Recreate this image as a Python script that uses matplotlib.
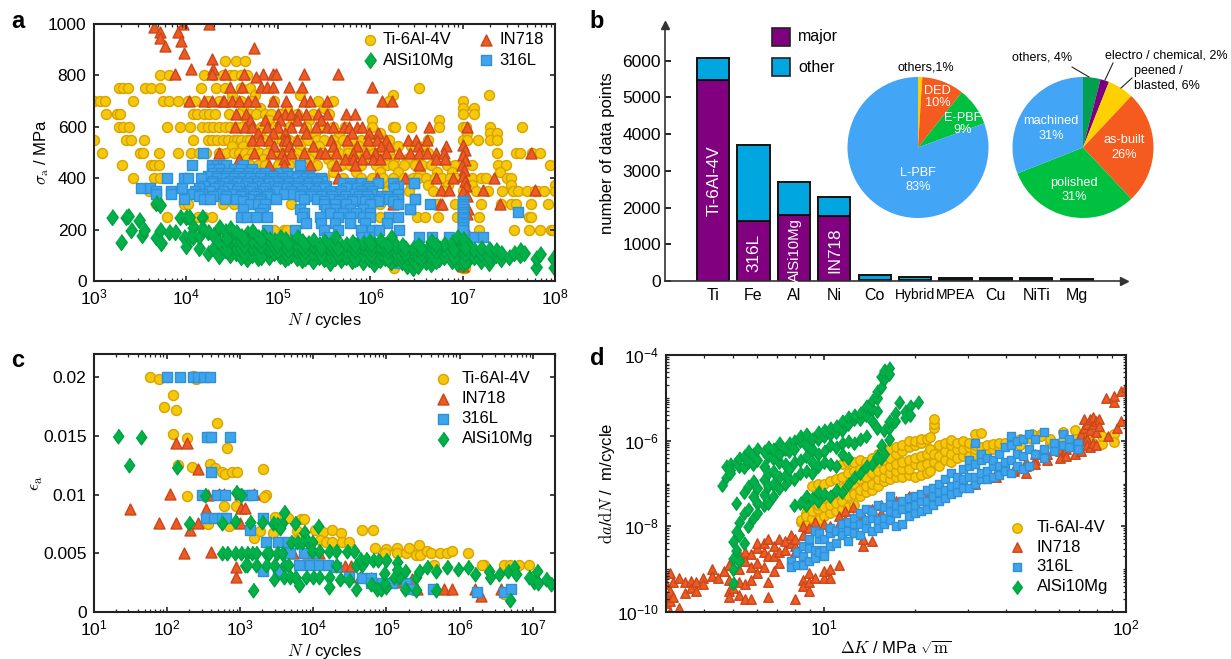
import matplotlib
matplotlib.use("Agg")
import matplotlib.pyplot as plt
from matplotlib.ticker import LogLocator, NullFormatter, LogFormatterMathtext, FixedLocator
import numpy as np

plt.rcParams['font.family'] = ['Liberation Sans', 'DejaVu Sans']
plt.rcParams['mathtext.fontset'] = 'cm'
plt.rcParams['mathtext.default'] = 'regular'

W, H = 1231, 659

YELLOW = ('#F5C80A', '#D8A200')
ORANGE = ('#EE5A22', '#C9471A')
BLUE = ('#3FA4EC', '#2E90D6')
GREEN = ('#02B04A', '#00A040')
DIAMOND = [(0, 1), (0.72, 0), (0, -1), (-0.72, 0)]

# panel a: stress level -> log10(N) readings
ti_a_rows = [
    (857, [4.42, 4.54, 4.64]),
    (800, [3.72, 3.82, 4.2, 4.3, 4.4, 4.48, 4.52, 4.6, 4.66]),
    (750, [3.28, 3.32, 3.37, 3.56, 3.62, 3.72, 4.17, 4.33, 4.42, 4.6, 4.7, 6.53]),
    (725, [4.5, 4.75, 5.24, 6.24, 7.28]),
    (700, [3.01, 3.07, 3.13, 3.43, 3.75, 3.82, 3.92, 4.02, 4.1, 4.24, 4.36, 4.5, 4.6, 4.72, 4.96, 5.43, 5.6, 6.2, 7.0]),
    (675, [4.62, 4.8, 5.1, 5.5, 7.0, 7.12]),
    (650, [3.14, 3.25, 3.29, 4.08, 4.12, 4.2, 4.25, 4.32, 4.47, 4.58, 4.7, 4.76, 4.86, 4.92, 5.02, 5.2, 5.38, 5.55, 7.0, 7.12]),
    (625, [4.66, 4.9, 5.16, 5.34, 6.02, 6.74]),
    (600, [3.28, 3.32, 3.39, 3.8, 3.94, 4.05, 4.18, 4.24, 4.3, 4.36, 4.42, 4.48, 4.54, 4.6, 4.7, 4.82, 4.96, 5.12, 5.3, 5.46, 5.6, 5.72, 6.02, 6.24, 6.27, 6.44, 6.74, 7.0, 7.04, 7.3, 7.64]),
    (575, [4.8, 5.0, 5.4, 5.66, 6.1, 7.05, 7.3, 7.37]),
    (550, [3.01, 3.35, 3.41, 3.55, 4.08, 4.24, 4.28, 4.34, 4.4, 4.46, 4.52, 4.56, 4.6, 4.66, 4.7, 4.78, 4.86, 4.95, 5.04, 5.12, 5.22, 5.32, 5.42, 5.5, 5.6, 5.7, 5.8, 5.9, 6.0, 6.1, 6.2, 6.62, 7.0, 7.05, 7.17, 7.3, 7.37]),
    (525, [4.5, 4.62, 4.74, 4.92, 5.08, 5.24, 5.44, 5.62, 5.76, 5.88, 6.0, 6.16, 6.3, 6.44, 6.58]),
    (500, [3.09, 3.5, 3.54, 3.71, 3.92, 4.06, 4.14, 4.22, 4.36, 4.44, 4.52, 4.58, 4.64, 4.72, 4.8, 4.88, 4.96, 5.04, 5.1, 5.2, 5.3, 5.4, 5.48, 5.58, 5.66, 5.76, 5.86, 5.94, 6.04, 6.12, 6.2, 6.62, 7.37, 7.58, 7.62, 7.75, 7.84]),
    (475, [4.66, 4.84, 5.02, 5.18, 5.34, 5.54, 5.72, 5.92, 6.1, 6.26, 6.4, 6.5]),
    (450, [3.31, 3.62, 3.66, 3.71, 4.62, 4.7, 4.78, 4.86, 5.0, 5.12, 5.26, 5.42, 5.58, 5.68, 5.78, 5.9, 6.06, 6.18, 6.24, 6.36, 6.48, 6.56, 6.66, 6.83, 6.92, 7.1, 7.38, 7.47, 7.95]),
    (425, [5.6, 5.84, 6.1, 6.3, 6.54, 6.72, 6.88, 7.4]),
    (400, [3.43, 3.66, 3.72, 5.5, 5.7, 5.9, 6.02, 6.14, 6.24, 6.36, 6.46, 6.52, 6.6, 6.7, 6.78, 6.86, 6.93, 7.1, 7.2, 7.25, 7.48, 7.52]),
    (375, [6.2, 6.44, 6.62, 6.84, 7.1, 7.52, 8.0]),
    (350, [3.6, 4.9, 6.18, 6.42, 6.68, 6.8, 7.0, 7.14, 7.27, 7.43, 7.54, 7.6, 7.7, 7.78, 7.82, 7.88, 8.0]),
    (300, [3.68, 3.98, 4.02, 4.4, 4.52, 5.14, 6.1, 6.72, 6.92, 7.2, 7.42, 7.52, 7.58, 7.74, 7.92]),
    (250, [3.8, 4.13, 4.2, 4.28, 4.6, 6.1, 6.5, 6.59, 6.73, 6.94, 7.18, 7.72, 7.74]),
    (200, [4.36, 4.5, 4.96, 5.06, 5.1, 7.18, 7.56, 7.72, 7.84, 7.96, 7.98]),
    (100, [5.84, 6.8, 7.0]),
    (50, [6.26, 7.0, 7.03]),
]

in_a_rows = [
    (1000, [3.97, 4.25]),
    (990, [3.66]),
    (970, [3.72, 3.92]),
    (945, [3.72]),
    (935, [3.95]),
    (915, [3.78]),
    (905, [4.74]),
    (888, [3.98]),
    (865, [4.28]),
    (825, [4.06, 4.3]),
    (805, [3.88, 4.28, 4.42, 4.63, 4.84, 4.94, 4.98, 5.28, 5.65]),
    (793, [4.76]),
    (753, [4.48, 4.61, 4.82, 4.88, 4.95, 5.12, 5.26, 6.02]),
    (700, [4.04, 4.2, 4.28, 4.4, 4.41, 4.5, 4.58, 4.67, 4.75, 4.94, 5.09, 5.28, 5.35, 5.53, 6.13, 6.23]),
    (650, [4.54, 4.65, 5.0, 5.08, 5.14, 5.22, 5.3, 5.43, 5.53, 5.74, 5.83]),
    (625, [4.7, 4.86, 5.02, 5.2, 5.46]),
    (600, [4.53, 4.64, 4.72, 4.88, 5.0, 5.14, 5.28, 5.41, 5.53, 5.59, 5.71, 5.77, 5.85, 5.91, 6.63, 7.05]),
    (575, [4.78, 4.95, 5.08, 5.3, 5.8, 5.98, 6.08]),
    (550, [4.72, 4.8, 4.9, 5.06, 5.1, 5.2, 5.57, 5.75, 5.97, 6.07, 6.17, 6.41, 6.49, 6.61]),
    (525, [4.96, 5.12, 5.38, 5.6, 5.86, 6.12, 6.2, 6.52, 6.82]),
    (500, [4.36, 4.74, 4.92, 5.04, 5.14, 5.28, 5.45, 5.51, 5.63, 5.81, 5.95, 6.05, 6.17, 6.31, 6.43, 6.53, 6.61, 6.71, 6.8, 7.74]),
    (475, [4.58, 5.06, 5.73, 5.81, 5.91, 6.03, 6.1, 6.71, 6.81]),
    (450, [4.9, 5.06, 5.35, 5.63, 5.83, 6.53]),
    (400, [5.65, 6.07, 6.37, 6.71, 6.89, 7.34]),
    (355, [6.77, 6.85, 7.22, 7.78]),
    (300, [6.25, 6.75, 6.78, 7.4]),
    (100, [6.81]),
]

in_a_1e7_logN = [7.0, 7.02, 7.0, 7.03, 6.99, 7.01, 7.0, 7.02, 7.04, 7.0, 7.05, 7.03, 7.06, 7.05, 7.04, 6.98, 7.0]
in_a_1e7_sigma = [530, 510, 490, 470, 450, 430, 410, 390, 370, 350, 330, 300, 280, 260, 200, 100, 60]

ss_a_rows = [
    (500, [4.19]),
    (450, [4.07, 4.28, 4.34, 4.4, 4.44, 4.62, 5.24]),
    (435, [4.28, 4.36, 4.52, 4.6, 4.72]),
    (420, [4.3, 4.38, 4.46, 4.58, 4.68, 4.78, 4.86, 5.02, 5.1]),
    (410, [4.24, 4.34, 4.42, 4.54, 4.66, 4.82, 4.94, 5.12, 5.22, 5.34]),
    (400, [3.8, 3.98, 4.02, 4.17, 4.34, 4.44, 4.52, 4.62, 4.7, 4.8, 4.94, 5.04, 5.2, 5.3, 5.38, 5.46]),
    (390, [4.3, 4.48, 4.6, 4.74, 4.88, 4.98, 5.08, 5.26, 5.4, 5.48]),
    (380, [4.28, 4.42, 4.55, 4.66, 4.78, 4.9, 5.0, 5.12, 5.22, 5.34, 5.42, 5.7, 5.78, 5.9, 6.08, 6.24, 6.47]),
    (370, [4.2, 4.36, 4.5, 4.64, 4.8, 4.94, 5.06, 5.18, 5.3, 5.44, 5.52, 5.8, 5.96, 6.3]),
    (360, [3.51, 3.61, 3.96, 4.14, 4.32, 4.46, 4.58, 4.72, 4.86, 5.0, 5.1, 5.2, 5.32, 5.44, 5.5, 5.74, 5.86, 5.98, 6.26]),
    (350, [3.68, 3.84, 4.1, 4.26, 4.4, 4.56, 4.7, 4.84, 4.98, 5.14, 5.26, 5.4, 5.56, 5.68, 5.9, 6.02]),
    (340, [3.68, 3.84, 4.08, 4.18, 4.36, 4.5, 4.62, 4.76, 4.9, 5.06, 5.16, 5.28, 5.38, 5.52, 5.66, 5.82, 5.92, 6.02, 6.3]),
    (330, [4.14, 4.3, 4.44, 4.6, 4.74, 4.88, 5.24, 5.36, 5.46, 5.58, 5.72, 5.88, 5.96, 6.12, 6.18]),
    (320, [3.98, 4.2, 4.26, 4.42, 4.54, 4.68, 4.82, 4.98, 5.28, 5.42, 5.56, 5.7, 5.85, 5.98, 6.12, 6.2, 6.3, 6.48]),
    (310, [4.62, 4.8, 5.5, 5.66, 5.8, 5.94, 6.08, 6.24]),
    (300, [4.7, 4.78, 4.86, 5.5, 5.62, 5.74, 6.0, 6.3, 6.65]),
    (280, [4.62, 4.84, 5.24, 5.52, 5.62, 5.78, 5.92, 6.43]),
    (265, [4.8, 5.28, 5.56, 5.7, 5.84, 6.0]),
    (250, [4.6, 4.66, 4.76, 4.88, 5.26, 5.45, 5.65, 5.78, 5.92, 6.0, 6.2, 6.3]),
    (225, [5.3, 5.46, 5.62, 5.78, 5.94, 6.18]),
    (200, [4.88, 5.18, 5.5, 5.65, 5.9, 6.02, 6.09, 6.31]),
    (170, [5.53, 5.91, 5.99, 6.53, 6.67, 6.85, 6.99, 7.12, 7.22]),
    (70, [6.31]),
]

ss_a_1e7_sigma = [310, 300, 290, 280, 270, 260, 250, 240, 230, 220, 210, 200]
ss_a_extra_logN = [7.6, 6.43, 6.48, 6.47]
ss_a_extra_sigma = [270, 280, 320, 380]

# AlSi10Mg in panel a: log10(N) -> stress readings
al_a_cols = [
    (3.2, [248]), (3.3, [150]), (3.35, [248]), (3.37, [252]), (3.41, [200]), (3.49, [237]),
    (3.53, [180]), (3.55, [200]), (3.68, [302, 172]), (3.72, [295, 198]), (3.73, [147]),
    (3.82, [192]), (3.88, [192]), (3.94, [248]), (3.98, [172]), (4.0, [137, 250]),
    (4.04, [248, 170]), (4.08, [212, 172]), (4.14, [127, 175]), (4.18, [248, 205]),
    (4.24, [108, 190]), (4.3, [130, 178]), (4.36, [98, 150, 212]), (4.42, [120, 168, 195]),
    (4.48, [100, 142, 180, 205]), (4.54, [110, 130, 160, 190]), (4.6, [95, 125, 150, 175]),
    (4.66, [86, 112, 140, 185, 160]), (4.72, [100, 130, 155, 195]), (4.78, [88, 118, 145, 170]),
    (4.84, [105, 128, 150, 180]), (4.9, [92, 120, 140, 165]), (4.96, [108, 132, 160]),
    (5.02, [96, 124, 148, 172]), (5.08, [84, 112, 136, 162]), (5.14, [100, 126, 150]),
    (5.2, [90, 118, 142, 170]), (5.26, [80, 108, 130, 155]), (5.32, [98, 122, 148]),
    (5.38, [76, 110, 135, 160]), (5.44, [92, 120, 145]), (5.5, [84, 105, 130, 155]),
    (5.56, [70, 98, 125, 145]), (5.62, [90, 115, 140, 170]), (5.68, [82, 108, 135]),
    (5.74, [95, 120, 145]), (5.8, [78, 105, 130, 150]), (5.86, [90, 112, 140]),
    (5.92, [72, 100, 128, 148]), (5.98, [85, 110, 135, 155]), (6.04, [68, 95, 120, 145]),
    (6.1, [82, 108, 130, 160]), (6.16, [90, 118, 140]), (6.22, [75, 100, 125, 170]),
    (6.28, [85, 110, 135]), (6.34, [72, 95, 125, 140]), (6.4, [58, 88, 115]),
    (6.46, [52, 80, 105, 130]), (6.52, [60, 92, 118, 140]), (6.6, [72, 100, 120]),
    (6.66, [68, 90, 110, 135, 155]), (6.74, [85, 108, 130]), (6.8, [95, 120, 145]),
    (6.88, [78, 105, 135, 150]), (6.94, [70, 110, 140, 170]), (7.0, [65, 90, 125, 150, 165]),
    (7.06, [80, 110, 140]), (7.12, [95, 120]), (7.2, [78, 105, 130]), (7.28, [70, 90, 125]),
    (7.36, [100, 120]), (7.42, [85, 110]), (7.5, [95]), (7.56, [110]), (7.62, [120, 100]),
    (7.66, [110]), (7.79, [55, 90]), (7.84, [105]), (7.98, [88]), (7.99, [55]),
    (4.45, [135, 115, 165]), (4.63, [105, 135, 165]), (4.81, [95, 135, 160]), (4.99, [115, 140]),
    (5.11, [95, 120, 145]), (5.29, [90, 115, 140]), (5.47, [100, 130]), (5.65, [100, 125]),
    (5.83, [85, 120, 140]), (6.01, [100, 125, 145]), (6.19, [85, 115, 135]), (6.37, [105, 130]),
    (6.55, [85, 110, 130]), (6.71, [78, 115, 140]), (6.91, [90, 120]), (7.03, [75, 105, 130]),
]

# panel b
metals = ['Ti', 'Fe', 'Al', 'Ni', 'Co', 'Hybrid', 'MPEA', 'Cu', 'NiTi', 'Mg']
major_counts = [5480, 1620, 1800, 1770, 20, 20, 30, 30, 30, 25]
other_counts = [590, 2090, 900, 530, 140, 80, 50, 40, 40, 25]
major_names = ['Ti-6Al-4V', '316L', 'AlSi10Mg', 'IN718']
process_share = [1, 10, 9, 83]
process_names = ['others,1%', 'DED\n10%', 'E-PBF\n9%', 'L-PBF\n83%']
surface_share = [4, 2, 6, 26, 31, 31]
surface_names = ['others, 4%', 'electro / chemical, 2%', 'peened /\nblasted, 6%', 'as-built\n26%', 'polished\n31%', 'machined\n31%']

# panel c: (log10 N, strain amplitude)
ti_c = [(1.77, .02), (1.9, .0199), (2.0, .02), (2.36, .0201), (2.4, .0199), (2.09, .0185), (1.96, .0175),
        (2.13, .0172), (2.69, .0161), (2.08, .0152), (2.27, .0148), (2.82, .014), (2.16, .0125), (2.35, .0124),
        (2.59, .0126), (2.66, .0123), (2.75, .0119), (2.79, .0118), (2.89, .0119), (2.96, .0119), (3.31, .0122),
        (2.27, .0099), (2.78, .009), (2.95, .009), (3.35, .01), (3.33, .0098), (2.85, .0073), (2.56, .0075),
        (3.19, .0063), (3.27, .0069), (3.45, .0067), (3.48, .0081), (3.65, .008), (3.83, .0079), (3.88, .0079),
        (3.78, .0069), (3.8, .0063), (4.03, .007), (4.13, .0068), (4.25, .007), (4.09, .0061), (4.18, .006),
        (4.25, .006), (4.38, .0067), (4.39, .006), (4.49, .006), (4.67, .007), (4.82, .007), (4.84, .0055),
        (4.99, .0054), (4.98, .005), (5.15, .0055), (5.15, .005), (5.27, .005), (5.31, .0055), (5.44, .0057),
        (5.4, .0049), (5.46, .0049), (5.55, .0052), (5.61, .005), (5.73, .005), (5.83, .005), (5.89, .0052),
        (6.11, .005), (5.65, .004), (6.33, .004), (6.61, .004), (6.68, .004), (6.81, .004), (6.94, .004),
        (6.6, .0015), (6.3, .004)]
in_c = [(1.5, .0088), (1.9, .0076), (2.13, .0076), (2.13, .0144), (2.28, .0144), (2.42, .0122), (2.04, .0101),
        (2.32, .007), (2.43, .0076), (2.54, .0088), (2.24, .005), (2.6, .0051), (2.57, .01), (2.71, .0101),
        (2.78, .0101), (3.0, .0101), (3.19, .0101), (3.02, .0089), (3.07, .0089), (3.0, .0076), (2.94, .0038),
        (2.95, .003), (3.73, .005), (3.93, .005), (4.08, .005), (4.44, .0039), (4.51, .0039), (4.64, .003),
        (4.79, .0029), (5.2, .0026), (5.35, .0028), (5.42, .002), (5.79, .002), (5.9, .002), (6.21, .002),
        (6.29, .0014), (6.57, .002)]
ss_c = [(2.0, .02), (2.18, .02), (2.36, .02), (2.43, .02), (2.51, .02), (2.59, .02), (2.55, .0149), (2.6, .0149),
        (2.87, .0149), (2.6, .0119), (2.48, .01), (2.69, .01), (2.79, .01), (3.09, .01), (3.17, .01), (2.54, .008),
        (2.64, .008), (2.76, .008), (2.81, .008), (3.13, .007), (3.32, .008), (3.35, .006), (3.52, .006),
        (3.65, .006), (3.32, .0035), (3.52, .0035), (3.68, .005), (3.88, .005), (4.0, .005), (3.8, .004),
        (3.95, .004), (4.08, .004), (4.2, .004), (4.31, .0038), (4.49, .003), (4.66, .0029), (4.79, .0029),
        (4.79, .0025), (4.94, .0025), (5.07, .0025), (5.27, .0025), (5.32, .002), (5.63, .002), (6.24, .0017),
        (6.61, .0017), (6.7, .002)]
al_c = [(1.33, .015), (1.65, .0149), (1.49, .0125), (2.14, .0124), (2.52, .01), (2.31, .0076), (2.76, .0076),
        (2.93, .0078), (2.95, .0102), (3.02, .01), (3.14, .0077), (3.3, .0077), (3.45, .0076), (3.5, .0075),
        (3.57, .0076), (3.6, .0085), (3.75, .0076), (3.54, .0072), (4.06, .0073), (3.88, .0068), (3.7, .006),
        (3.78, .006), (3.85, .006), (3.93, .006), (3.98, .006), (2.76, .005), (2.82, .005), (2.93, .005),
        (3.02, .005), (3.09, .005), (3.17, .005), (3.22, .005), (3.35, .005), (3.4, .005), (3.5, .005), (3.57, .005),
        (3.98, .0052), (4.08, .0052), (4.21, .0052), (4.31, .0052), (4.46, .0052), (4.56, .0052), (3.07, .004),
        (3.09, .004), (3.22, .004), (3.35, .004), (3.47, .004), (3.6, .004), (3.65, .004), (4.31, .004), (4.59, .004),
        (4.66, .004), (4.64, .0045), (4.72, .0045), (4.82, .0044), (4.89, .0044), (4.99, .0044), (3.46, .0028),
        (3.6, .003), (3.68, .003), (3.75, .003), (3.9, .003), (4.0, .003), (4.08, .003), (4.21, .003), (3.18, .0019),
        (3.81, .0023), (4.21, .0021), (4.36, .0028), (4.49, .0027), (4.59, .002), (4.79, .0024), (4.87, .002),
        (4.92, .002), (4.99, .0021), (4.97, .0025), (4.97, .0033), (5.1, .003), (5.17, .003), (5.14, .0043),
        (5.14, .0037), (5.25, .0035), (5.25, .002), (5.4, .003), (5.4, .0019), (5.45, .0035), (5.55, .0038),
        (5.68, .0035), (5.68, .0019), (5.82, .0038), (5.98, .0037), (6.12, .0038), (6.21, .0032), (6.4, .0035),
        (6.41, .003), (6.54, .0032), (6.69, .001), (6.66, .0035), (6.74, .0038), (6.77, .0032), (6.95, .003),
        (7.02, .0026), (7.05, .0035), (7.07, .0025), (7.18, .0028), (7.24, .0024)]

# panel d: log10(dK) -> log10(da/dN) readings
al_d_cols = [
    (.661, [-7.03]), (.675, [-6.6, -6.85]), (.688, [-6.55, -6.68, -6.76]), (.70, [-9.32, -9.0, -8.75, -8.35]),
    (.71, [-8.55, -8.1, -6.5, -7.45]), (.72, [-8.8, -8.2, -7.9, -6.6, -6.4]), (.735, [-8.4, -7.7, -7.2, -6.35, -6.62]),
    (.75, [-8.0, -7.6, -7.05, -6.5, -6.25]), (.765, [-7.8, -7.3, -6.95, -6.55, -6.3]),
    (.78, [-7.7, -7.45, -7.1, -6.45, -6.2]), (.80, [-7.5, -7.25, -6.9, -6.6, -6.25]),
    (.815, [-7.45, -7.05, -6.75, -6.35, -6.15]), (.83, [-7.3, -7.0, -6.7, -6.4, -6.2]),
    (.85, [-7.1, -6.85, -6.5, -6.3, -6.05]), (.87, [-7.0, -6.8, -6.55, -6.2]), (.885, [-6.9, -6.65, -6.25, -6.05]),
    (.90, [-7.5, -6.9, -6.5, -6.0, -6.2]), (.92, [-7.45, -6.75, -6.45, -6.0, -5.9]),
    (.94, [-7.5, -7.3, -6.7, -6.35, -6.1, -5.85]), (.96, [-7.35, -6.75, -6.5, -6.2, -5.95]),
    (.98, [-7.4, -7.2, -6.6, -6.3, -5.95, -5.8]), (1.0, [-7.25, -6.5, -6.25, -5.9, -5.75]),
    (1.02, [-7.3, -6.55, -6.1, -5.85, -5.7]), (1.04, [-7.15, -6.6, -6.15, -5.8, -5.65]),
    (1.06, [-7.2, -6.3, -6.05, -5.75, -5.55]), (1.08, [-7.0, -6.4, -6.0, -5.6, -5.45]),
    (1.10, [-6.85, -6.05, -5.5, -5.4]), (1.12, [-6.75, -5.95, -5.5, -5.35]), (1.14, [-6.6, -5.9, -5.4, -5.2]),
    (1.16, [-6.55, -5.55, -5.25, -5.05]), (1.175, [-6.35, -6.4, -5.7, -5.3, -5.0, -4.85]),
    (1.19, [-6.4, -6.1, -4.75, -4.5]), (1.20, [-6.3, -5.75, -4.35, -4.55, -4.4]), (1.215, [-5.95, -4.3, -4.45, -5.7, -5.55]),
    (1.235, [-5.35, -5.55]), (1.25, [-5.1]), (1.27, [-5.3, -5.45]), (1.285, [-5.2, -5.4]), (1.31, [-5.1]),
]
ti_d_cols = [
    (.925, [-7.9, -7.85]), (.94, [-7.95, -7.7, -7.75]), (.96, [-7.8, -7.65, -7.05]), (.98, [-7.85, -7.6, -7.5, -7.0]),
    (1.0, [-7.75, -7.55, -7.35, -7.0]), (1.02, [-7.7, -7.5, -7.3, -6.95]), (1.04, [-7.65, -7.45, -7.2, -6.9]),
    (1.06, [-7.6, -7.4, -7.1, -6.55, -6.85]), (1.08, [-7.55, -7.3, -7.05, -6.5, -6.75]),
    (1.10, [-7.5, -7.25, -7.0, -6.7, -6.5]), (1.12, [-7.3, -7.15, -6.9, -6.65, -6.45]),
    (1.14, [-7.2, -7.05, -6.85, -6.6, -6.5]), (1.16, [-7.15, -7.0, -6.75, -6.55, -6.4]),
    (1.18, [-7.05, -6.9, -6.7, -6.5, -6.3]), (1.20, [-6.95, -6.85, -6.65, -6.45, -6.25]),
    (1.22, [-6.9, -6.75, -6.6, -6.4, -6.2]), (1.24, [-6.85, -6.7, -6.55, -6.3, -6.15]),
    (1.26, [-6.85, -6.65, -6.5, -6.25, -6.1]), (1.28, [-6.8, -6.65, -6.45, -6.15, -6.0]),
    (1.30, [-6.85, -6.55, -6.4, -6.1, -6.0]), (1.32, [-6.8, -6.6, -6.35, -6.05, -5.97]),
    (1.34, [-6.75, -6.55, -6.3, -5.95]), (1.352, [-6.7, -6.2, -5.92]), (1.366, [-6.5, -6.3, -5.7, -5.6, -5.5]),
    (1.38, [-6.6, -6.35, -6.1]), (1.40, [-6.45, -6.25, -6.05]), (1.42, [-6.5, -6.3, -6.1, -5.98]),
    (1.44, [-6.4, -6.2, -6.05]), (1.46, [-6.35, -6.2, -6.0]), (1.48, [-6.35, -6.15, -6.05]),
    (1.50, [-6.3, -6.2, -6.1, -5.85]), (1.52, [-6.3, -6.15, -5.82]), (1.54, [-6.25, -6.1]),
    (1.56, [-6.2, -6.08]), (1.58, [-6.15, -6.05]), (1.60, [-6.05]), (1.65, [-5.95, -6.1]),
    (1.69, [-5.95, -5.85]), (1.72, [-5.85, -5.9]), (1.75, [-6.05, -5.95]), (1.79, [-5.8, -6.0]),
    (1.83, [-5.75, -5.95]), (1.87, [-5.7, -5.85]), (1.89, [-6.1, -6.05]), (1.92, [-6.08, -5.9]),
    (1.96, [-5.85, -6.02]),
]
in_d_cols = [
    (.478, [-9.65, -9.8, -9.35]), (.49, [-9.1, -9.5, -9.75, -10.0]), (.50, [-9.3, -9.65]), (.52, [-9.2, -9.9]),
    (.54, [-9.3, -9.55]), (.56, [-9.28, -9.45]), (.575, [-9.3, -9.5]), (.60, [-9.2, -9.35]), (.63, [-9.0, -9.15]),
    (.65, [-9.2]), (.67, [-9.05]), (.685, [-9.5, -9.65, -9.25, -8.9]), (.70, [-9.45]), (.72, [-9.3, -9.6, -9.0, -8.65]),
    (.74, [-9.35, -9.7, -8.8, -8.6]), (.76, [-9.25, -8.95, -9.7, -8.65]), (.78, [-9.1, -8.5, -8.85, -8.4]),
    (.80, [-8.4, -8.95, -8.6]), (.815, [-9.3, -9.65, -8.3, -8.7]), (.835, [-9.05, -8.45, -8.7]),
    (.85, [-8.3, -8.6, -8.85]), (.87, [-8.35, -8.55]), (.89, [-8.4, -8.2]), (.905, [-9.7, -8.45, -8.3, -8.6]),
    (.93, [-8.0, -8.2, -9.25, -9.4]), (.95, [-9.1, -9.5, -9.3, -8.05]), (.97, [-7.9, -9.2]), (1.0, [-9.2, -9.05, -7.95]),
    (1.02, [-9.2, -9.0, -8.0]), (1.05, [-8.9, -7.75, -7.95]), (1.07, [-7.65, -7.85]), (1.095, [-7.55, -7.8]),
    (1.13, [-7.75, -8.45, -8.3]), (1.16, [-7.6, -8.35]), (1.19, [-7.5, -7.7]), (1.24, [-7.4, -7.5]),
    (1.28, [-7.3, -7.45]), (1.34, [-7.25, -7.2]), (1.38, [-7.1, -7.2]), (1.44, [-7.1, -6.98]), (1.5, [-6.9, -7.0]),
    (1.57, [-6.85, -6.75]), (1.63, [-6.7, -6.65]), (1.67, [-6.6, -6.5, -6.75]), (1.70, [-6.45, -6.55, -6.3]),
    (1.74, [-6.45, -6.3]), (1.78, [-6.25, -6.4]), (1.80, [-6.2, -6.35]), (1.83, [-6.1, -6.3]), (1.85, [-5.85, -6.25]),
    (1.86, [-6.0, -5.7, -5.5]), (1.87, [-5.95, -6.1, -5.6]), (1.88, [-5.75, -5.5, -6.15]), (1.89, [-5.6, -5.45, -6.05]),
    (1.90, [-5.55, -5.8, -6.1]), (1.91, [-5.5, -5.65]), (1.94, [-5.9]), (1.97, [-5.7]), (1.935, [-5.0]),
    (1.96, [-5.1, -4.95]), (1.985, [-5.55, -4.85]), (2.0, [-4.75]),
]
ss_d_cols = [
    (.89, [-8.8, -8.95]), (.91, [-8.6, -8.9]), (.93, [-8.45, -8.9, -8.7]), (.95, [-8.5, -8.8, -8.3]), (.97, [-8.55, -8.75, -8.1]),
    (.985, [-8.6, -8.3, -8.15]), (1.0, [-8.55, -8.7, -8.3]), (1.02, [-8.45, -8.15, -8.05]), (1.04, [-8.4, -8.1]),
    (1.06, [-8.1, -8.2, -7.95]), (1.08, [-8.35, -8.1, -7.9]), (1.1, [-8.15, -7.95, -7.8]), (1.12, [-8.2, -7.95, -7.7]),
    (1.14, [-8.05, -7.85, -7.6]), (1.16, [-8.1, -7.8, -7.65]), (1.18, [-8.05, -7.85, -7.5]), (1.2, [-7.95, -7.8, -7.55]),
    (1.22, [-7.85, -7.65, -7.45, -7.3]), (1.24, [-8.0, -7.7, -7.5]), (1.26, [-7.95, -7.6, -7.4]), (1.28, [-7.75, -7.55, -7.35]),
    (1.3, [-7.7, -7.5, -7.3]), (1.32, [-7.65, -7.4, -7.25]), (1.34, [-7.6, -7.4, -7.15]), (1.36, [-7.5, -7.3, -7.1]),
    (1.38, [-7.4, -7.2, -7.0]), (1.4, [-7.35, -7.15, -6.9]), (1.42, [-7.25, -7.05, -6.75]), (1.44, [-7.2, -7.0, -6.85]),
    (1.46, [-7.1, -6.9, -6.65]), (1.48, [-7.1, -6.85, -6.6, -6.45]), (1.5, [-7.0, -6.85, -6.55, -6.05]),
    (1.52, [-6.9, -6.75, -6.45, -6.3]), (1.54, [-6.9, -6.7, -6.4]), (1.56, [-6.85, -6.6, -6.45]), (1.58, [-6.8, -6.6, -6.3]),
    (1.6, [-6.7, -6.5, -6.15]), (1.62, [-6.75, -6.45, -6.1, -5.9]), (1.64, [-6.6, -6.3, -6.0]), (1.66, [-6.65, -6.35, -5.95]),
    (1.68, [-6.6, -6.2, -5.85]), (1.70, [-6.3, -5.95]), (1.73, [-6.2, -5.8, -6.4]), (1.76, [-6.05, -6.25]), (1.79, [-5.85, -6.1]),
    (1.81, [-5.95, -6.15]), (1.84, [-6.05, -6.2]),
]

LABEL_SIZE = 11.5


def axes_px(left, right, top, bottom):
    return fig.add_axes([left / W, 1 - bottom / H, (right - left) / W, (bottom - top) / H])


def rows_to_xy(rows):
    x, y = [], []
    for level, vals in rows:
        x += vals
        y += [level] * len(vals)
    return 10 ** np.array(x, dtype=float), np.array(y, dtype=float)


def cols_to_xy(cols, log_y=True):
    x, y = [], []
    for pos, vals in cols:
        x += [pos] * len(vals)
        y += vals
    y = np.array(y, dtype=float)
    return 10 ** np.array(x, dtype=float), (10 ** y if log_y else y)


def pairs_to_xy(pairs):
    a = np.array(pairs)
    return 10 ** a[:, 0], a[:, 1]


def dots(ax, x, y, kind, label=None, scale=1.0):
    face, edge = {'ti': YELLOW, 'in': ORANGE, 'ss': BLUE, 'al': GREEN}[kind]
    marker = {'ti': 'o', 'in': '^', 'ss': 's', 'al': DIAMOND}[kind]
    size = {'ti': 52, 'in': 62, 'ss': 58, 'al': 130}[kind]
    ax.scatter(x, y, s=size * scale, marker=marker, facecolor=face, edgecolor=edge, linewidths=1.0, label=label)


def frame(ax):
    for s in ax.spines.values():
        s.set_linewidth(1.5)
        s.set_color('#222222')
    ax.tick_params(which='major', direction='in', length=3.5, width=1.2, top=True, right=True,
                   labelsize=LABEL_SIZE + 1, pad=5, color='#222222')
    ax.tick_params(which='minor', direction='in', length=2, width=0.9, top=True, right=True, color='#222222')


fig = plt.figure(figsize=(W / 100, H / 100), dpi=100)

# ---- a
ax = axes_px(93.5, 555, 24, 281)
x, y = rows_to_xy(ti_a_rows)
dots(ax, x, y, 'ti', 'Ti-6Al-4V')
x, y = rows_to_xy(in_a_rows)
x = np.concatenate([x, 10 ** np.array(in_a_1e7_logN)])
y = np.concatenate([y, in_a_1e7_sigma])
dots(ax, x, y, 'in', 'IN718')
x, y = rows_to_xy(ss_a_rows)
x = np.concatenate([x, np.full(len(ss_a_1e7_sigma), 1e7), 10 ** np.array(ss_a_extra_logN)])
y = np.concatenate([y, ss_a_1e7_sigma, ss_a_extra_sigma])
dots(ax, x, y, 'ss', '316L')
x, y = cols_to_xy(al_a_cols, log_y=False)
dots(ax, x, y, 'al', 'AlSi10Mg')
ax.set_xscale('log')
ax.set_xlim(1e3, 1e8)
ax.set_ylim(0, 1000)
ax.set_yticks([0, 200, 400, 600, 800, 1000])
frame(ax)
ax.set_xlabel(r'$\mathit{N}$ / cycles', fontsize=LABEL_SIZE + 0.5, labelpad=2)
ax.set_ylabel(r'$\mathit{\sigma}_{\mathrm{a}}$ / MPa', fontsize=LABEL_SIZE + 0.5, labelpad=-2)
h, l = ax.get_legend_handles_labels()
order = [0, 3, 1, 2]
ax.legend([h[i] for i in order], [l[i] for i in order], ncol=2, frameon=False, loc='upper left',
          fontsize=LABEL_SIZE + 0.5, bbox_to_anchor=(0.581, 0.969), handlelength=1, handletextpad=0.28,
          columnspacing=1.4, labelspacing=0.35, borderaxespad=0, borderpad=0)

# ---- b
ax = axes_px(665, 1124, 25, 281)
pos = np.arange(len(metals))
ax.bar(pos, major_counts, width=0.8, color='#800080', edgecolor='#111111', linewidth=1.4)
ax.bar(pos, other_counts, width=0.8, bottom=major_counts, color='#00A6E0', edgecolor='#111111', linewidth=1.4)
ax.set_xlim(-1.19, 10.17)
ax.set_ylim(0, 6970)
for i, name in enumerate(major_names):
    ax.text(i + 0.02, major_counts[i] / 2 if i == 0 else major_counts[i] * 0.47, name, rotation=90, color='white',
            ha='center', va='center', fontsize=LABEL_SIZE + (0.8 if i != 2 else -0.8))
ax.set_xticks(pos)
ax.set_xticklabels(metals, fontsize=LABEL_SIZE)
ax.get_xticklabels()[5].set_fontsize(LABEL_SIZE - 1.5)
ax.get_xticklabels()[6].set_fontsize(LABEL_SIZE - 1.5)
ax.set_yticks([0, 1000, 2000, 3000, 4000, 5000, 6000])
ax.tick_params(axis='x', length=0, pad=5)
ax.tick_params(axis='y', direction='in', length=4, width=1.2, labelsize=LABEL_SIZE + 1, pad=3)
for s in ['top', 'right']:
    ax.spines[s].set_visible(False)
for s in ['left', 'bottom']:
    ax.spines[s].set_linewidth(1.2)
    ax.spines[s].set_color('#333333')
ax.plot(1, 0, '>', color='#333333', ms=6, transform=ax.transAxes, clip_on=False)
ax.plot(0, 1, '^', color='#333333', ms=6, transform=ax.transAxes, clip_on=False)
ax.set_ylabel('number of data points', fontsize=LABEL_SIZE + 0.5, labelpad=5)

fig.patches.append(plt.Rectangle((771.5 / W, 1 - 46 / H), 18 / W, 18 / H, transform=fig.transFigure,
                                 facecolor='#800080', edgecolor='#222222', linewidth=1.2))
fig.patches.append(plt.Rectangle((771.5 / W, 1 - 76 / H), 18 / W, 18 / H, transform=fig.transFigure,
                                 facecolor='#00A6E0', edgecolor='#222222', linewidth=1.2))
fig.text(798 / W, 1 - 36 / H, 'major', fontsize=LABEL_SIZE, va='center')
fig.text(798 / W, 1 - 67 / H, 'other', fontsize=LABEL_SIZE, va='center')

PIE_TEXT = 9.2
pa = axes_px(847.5, 988.5, 77, 218)
pa.pie(process_share, colors=['#FFD000', '#F55A1E', '#00C040', '#42A5F5'], startangle=90, counterclock=False,
       radius=1.0, wedgeprops={'linewidth': 0})
pa.set_aspect('auto')
pa.set_xlim(-1, 1)
pa.set_ylim(-1, 1)
pa.text(0.28, 0.72, process_names[1], color='white', fontsize=PIE_TEXT, ha='center', va='center', linespacing=1.05)
pa.text(0.64, 0.33, process_names[2], color='white', fontsize=PIE_TEXT, ha='center', va='center', linespacing=1.05)
pa.text(0, -0.46, process_names[3], color='white', fontsize=PIE_TEXT, ha='center', va='center', linespacing=1.25)
fig.text(926 / W, 1 - 67 / H, process_names[0], fontsize=9, ha='center', va='center')

pb = axes_px(1012.5, 1153.5, 77, 218)
pb.pie(surface_share, colors=['#00A050', '#7B0080', '#FFD000', '#F55A1E', '#00C040', '#42A5F5'], startangle=90,
       counterclock=False, radius=1.0, wedgeprops={'linewidth': 0})
pb.set_aspect('auto')
pb.set_xlim(-1, 1)
pb.set_ylim(-1, 1)
pb.text(0.58, 0.0, surface_names[3], color='white', fontsize=PIE_TEXT, ha='center', va='center', linespacing=1.25)
pb.text(-0.13, -0.6, surface_names[4], color='white', fontsize=PIE_TEXT, ha='center', va='center', linespacing=1.25)
pb.text(-0.45, 0.27, surface_names[5], color='white', fontsize=PIE_TEXT, ha='center', va='center', linespacing=1.25)
fig.text(1042 / W, 1 - 58 / H, surface_names[0], fontsize=9, ha='center', va='center')
fig.text(1166 / W, 1 - 55 / H, surface_names[1], fontsize=9, ha='center', va='center')
fig.text(1134 / W, 1 - 78.5 / H, surface_names[2], fontsize=9, ha='left', va='center', linespacing=1.25)
for (x0, y0, x1, y1) in [(1072, 67, 1089, 77), (1113, 63, 1105, 80), (1132, 78, 1121, 88)]:
    fig.add_artist(plt.Line2D([x0 / W, x1 / W], [1 - y0 / H, 1 - y1 / H], color='#222222', lw=0.8))

# ---- c
ax = axes_px(93.5, 555, 354, 612)
x, y = pairs_to_xy(ti_c)
dots(ax, x, y, 'ti', 'Ti-6Al-4V')
x, y = pairs_to_xy(in_c)
dots(ax, x, y, 'in', 'IN718')
x, y = pairs_to_xy(ss_c)
dots(ax, x, y, 'ss', '316L')
x, y = pairs_to_xy(al_c)
dots(ax, x, y, 'al', 'AlSi10Mg', scale=0.85)
ax.set_xscale('log')
ax.set_xlim(10, 2e7)
ax.set_ylim(0, 0.022)
ax.set_yticks([0, 0.005, 0.01, 0.015, 0.02])
ax.set_yticklabels(['0', '0.005', '0.01', '0.015', '0.02'])
frame(ax)
ax.xaxis.set_major_locator(LogLocator(base=10, numticks=10))
ax.set_xlabel(r'$\mathit{N}$ / cycles', fontsize=LABEL_SIZE + 0.5, labelpad=2)
ax.set_ylabel(r'$\mathit{\epsilon}_{\mathrm{a}}$', fontsize=LABEL_SIZE + 1.5, labelpad=-1)
ax.legend(frameon=False, loc='upper left', fontsize=LABEL_SIZE + 0.5, bbox_to_anchor=(0.739, 0.934),
          handlelength=1, handletextpad=0.63, labelspacing=0.3, borderaxespad=0, borderpad=0)

# ---- d
ax = axes_px(666, 1126, 355, 612)
x, y = cols_to_xy(ti_d_cols)
dots(ax, x, y, 'ti', 'Ti-6Al-4V', scale=0.9)
x, y = cols_to_xy(in_d_cols)
dots(ax, x, y, 'in', 'IN718', scale=0.75)
x, y = cols_to_xy(ss_d_cols)
dots(ax, x, y, 'ss', '316L', scale=0.65)
x, y = cols_to_xy(al_d_cols)
dots(ax, x, y, 'al', 'AlSi10Mg', scale=0.72)
ax.set_xscale('log')
ax.set_yscale('log')
ax.set_xlim(3, 100)
ax.set_ylim(1e-10, 1e-4)
ax.set_xticks([10, 100])
ax.yaxis.set_major_locator(FixedLocator([1e-10, 1e-8, 1e-6, 1e-4]))
ax.yaxis.set_major_formatter(LogFormatterMathtext())
ax.yaxis.set_minor_locator(LogLocator(base=10, subs=np.arange(1, 10), numticks=12))
ax.yaxis.set_minor_formatter(NullFormatter())
ax.xaxis.set_minor_formatter(NullFormatter())
frame(ax)
ax.set_xlabel(r'$\mathit{\Delta K}$ / MPa $\sqrt{\mathrm{m}}$', fontsize=LABEL_SIZE + 0.5, labelpad=1)
ax.set_ylabel(r'$\mathrm{d}\mathit{a}/\mathrm{d}\mathit{N}$ /  m/cycle', fontsize=LABEL_SIZE + 0.5, labelpad=0)
ax.legend(frameon=False, loc='upper left', fontsize=LABEL_SIZE + 0.5, bbox_to_anchor=(0.746, 0.358),
          handlelength=1, handletextpad=0.65, labelspacing=0.28, borderaxespad=0, borderpad=0)

# panel letters
for letter, px, py in [('a', 18, 21), ('b', 597, 21), ('c', 18, 361), ('d', 597, 359)]:
    fig.text(px / W, 1 - py / H, letter, fontsize=17, fontweight='bold', ha='center', va='center')

fig.savefig('out.png', dpi=100)
